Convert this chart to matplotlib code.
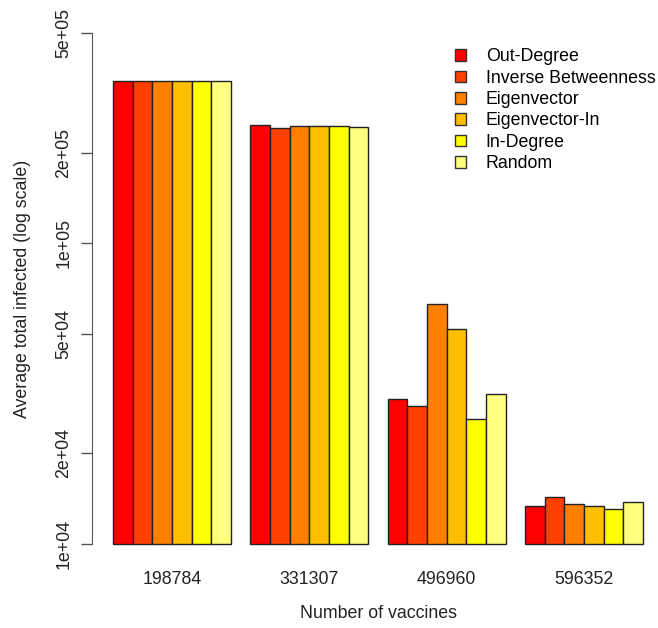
import matplotlib
matplotlib.use("Agg")
import matplotlib.pyplot as plt
from matplotlib.patches import Patch
import numpy as np

plt.rcParams['font.family'] = ['Liberation Sans', 'DejaVu Sans']

# --- data ----------------------------------------------------------
vaccines = ["198784", "331307", "496960", "596352"]
strategies = ["Out-Degree", "Inverse Betweenness", "Eigenvector",
              "Eigenvector-In", "In-Degree", "Random"]
colors = ["#FF0000", "#FF4000", "#FF8000", "#FFBF00", "#FFFF00", "#FFFF80"]

out_degree = [347000, 246600, 30300, 13410]
inv_betweenness = [346500, 242000, 28760, 14360]
eigenvector = [347000, 245900, 62600, 13580]
eigenvector_in = [347000, 245000, 51700, 13410]
in_degree = [347000, 245000, 26100, 13100]
random_ = [347000, 242800, 31500, 13820]

series = [out_degree, inv_betweenness, eigenvector, eigenvector_in, in_degree, random_]

FS = 12.8

# --- figure --------------------------------------------------------
fig = plt.figure(figsize=(6.58, 6.28), dpi=100)
ax = fig.add_axes([92 / 658, (628 - 564.4) / 628, 572 / 658, 551.8 / 628])

n = len(strategies)
for i, vals in enumerate(series):
    lefts = [1 + g * (n + 1) + i for g in range(len(vaccines))]
    ax.bar(lefts, np.array(vals) - 1e4, bottom=1e4, width=1, align="edge",
           color=colors[i], edgecolor="#222222", linewidth=1)

ax.set_yscale("log")
span = np.log10(5e5) - np.log10(1e4)
ax.set_ylim(10 ** (4 - 0.04 * span), 10 ** (np.log10(5e5) + 0.04 * span))
total = len(vaccines) * (n + 1) - 1
ax.set_xlim(1 - 0.04 * total, 1 + total + 0.04 * total)

yt = [1e4, 2e4, 5e4, 1e5, 2e5, 5e5]
ax.set_yticks(yt)
ax.set_yticklabels(["1e+04", "2e+04", "5e+04", "1e+05", "2e+05", "5e+05"],
                   rotation=90, va="center", fontsize=FS, color="#222222")
ax.yaxis.set_minor_locator(matplotlib.ticker.NullLocator())
ax.tick_params(axis="y", length=8, width=1, color="#555555", pad=6)

centers = [1 + g * (n + 1) + n / 2 for g in range(len(vaccines))]
ax.set_xticks(centers)
ax.set_xticklabels(vaccines, fontsize=FS, color="#222222")
ax.tick_params(axis="x", length=0, pad=5)

for s in ["top", "right", "bottom"]:
    ax.spines[s].set_visible(False)
ax.spines["left"].set_bounds(1e4, 5e5)
ax.spines["left"].set_color("#555555")

ax.set_xlabel("Number of vaccines", fontsize=FS, color="#222222", labelpad=12)
ax.set_ylabel("Average total infected (log scale)", fontsize=FS, color="#222222", labelpad=18)

handles = [Patch(facecolor=c, edgecolor="#333333", linewidth=1) for c in colors]
fig.legend(handles, strategies, loc="upper left", bbox_to_anchor=(448 / 658, 1 - 41 / 628),
           frameon=False, fontsize=FS, handlelength=0.62, handleheight=0.62,
           handletextpad=1.1, labelspacing=0.25, borderaxespad=0)

fig.savefig("out.png", dpi=100)
